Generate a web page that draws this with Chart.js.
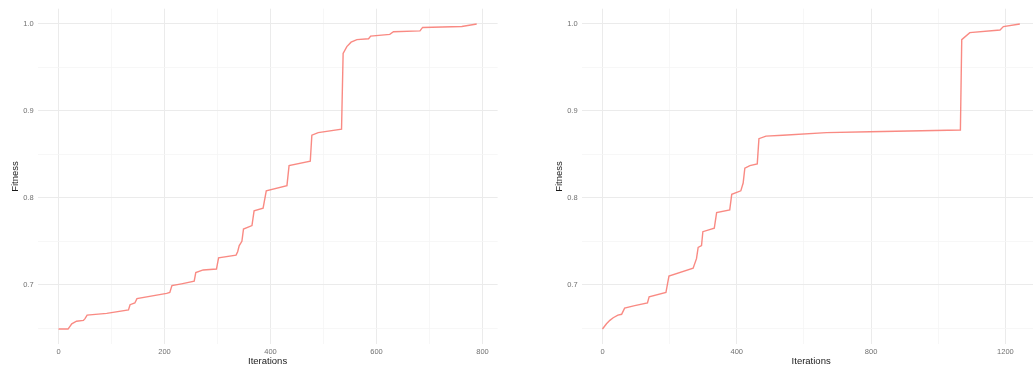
<!DOCTYPE html>
<html>
<head>
<meta charset="utf-8">
<script src="https://cdn.jsdelivr.net/npm/chart.js@4/dist/chart.umd.min.js"></script>
<style>
  html, body { margin: 0; padding: 0; background: #fff; overflow: hidden; width: 1033px; height: 367px; }
  .panel { position: absolute; top: 0; width: 520px; height: 367px; }
</style>
</head>
<body>
<div class="panel" style="left:0"><canvas id="runA" width="520" height="367"></canvas></div>
<div class="panel" style="left:544px"><canvas id="runB" width="520" height="367"></canvas></div>
<script>
// Best fitness per iteration, first run
const runAIterations = [0, 18, 25, 34, 47, 50, 54, 91, 132, 135, 144, 148, 204, 210, 214, 232, 256, 259, 273, 298,
  302, 335, 338, 341, 346, 349, 365, 369, 386, 392, 431, 435, 475, 478, 490, 534, 537, 544, 552, 563,
  585, 589, 625, 632, 682, 687, 761, 789];
const runAFitness = [0.649, 0.649, 0.655, 0.658, 0.659, 0.661, 0.665, 0.667, 0.671, 0.677, 0.679, 0.684, 0.690, 0.691, 0.699, 0.701, 0.704, 0.714, 0.717, 0.718,
  0.731, 0.734, 0.738, 0.745, 0.750, 0.764, 0.768, 0.785, 0.788, 0.808, 0.814, 0.837, 0.842, 0.872, 0.875, 0.879, 0.966, 0.974, 0.979, 0.982,
  0.983, 0.986, 0.988, 0.991, 0.992, 0.996, 0.997, 1.000];

// Best fitness per iteration, second run
const runBIterations = [0, 12, 22, 32, 46, 57, 66, 96, 134, 139, 189, 198, 270, 280, 285, 295, 299, 333, 340, 379,
  385, 412, 419, 424, 439, 461, 466, 487, 537, 667, 796, 1066, 1070, 1094, 1184, 1194, 1243];
const runBFitness = [0.649, 0.655, 0.659, 0.662, 0.665, 0.666, 0.673, 0.676, 0.679, 0.686, 0.691, 0.710, 0.719, 0.730, 0.743, 0.745, 0.761, 0.765, 0.783, 0.786,
  0.804, 0.808, 0.817, 0.834, 0.837, 0.839, 0.868, 0.871, 0.872, 0.875, 0.876, 0.878, 0.982, 0.990, 0.993, 0.997, 1.000];

// Axis ticks
const yTickValues = [0.7, 0.8, 0.9, 1.0];
const yTickLabels = ['0.7', '0.8', '0.9', '1.0'];
const yMinorValues = [0.65, 0.75, 0.85, 0.95];
const runAXTickValues = [0, 200, 400, 600, 800];
const runAXTickLabels = ['0', '200', '400', '600', '800'];
const runAXMinorValues = [100, 300, 500, 700];
const runBXTickValues = [0, 400, 800, 1200];
const runBXTickLabels = ['0', '400', '800', '1200'];
const runBXMinorValues = [200, 600, 1000];

const LINE_COLOR = 'rgba(248,118,109,0.85)';
const GRID_MAJOR = '#ebebeb';
const GRID_MINOR = '#f5f5f5';
const FONT = 'Liberation Sans, Arial, Helvetica, sans-serif';

// ggplot-style 5% expansion on both sides of the data range
function expand(lo, hi) {
  const pad = (hi - lo) * 0.05;
  return [lo - pad, hi + pad];
}

function near(list, v) {
  return list.findIndex(t => Math.abs(t - v) < 1e-9);
}

function buildPanel(canvasId, iterations, fitness, xTicks, xLabels, xMinor, plotRight) {
  const allFit = runAFitness.concat(runBFitness);
  const [yMin, yMax] = expand(Math.min(...allFit), Math.max(...allFit));
  const [xMin, xMax] = expand(Math.min(...iterations), Math.max(...iterations));
  const canvas = document.getElementById(canvasId);

  new Chart(canvas, {
    type: 'line',
    data: {
      datasets: [{
        data: iterations.map((it, i) => ({ x: it, y: fitness[i] })),
        borderColor: LINE_COLOR,
        borderWidth: 1.4,
        pointRadius: 0,
        tension: 0,
        fill: false
      }]
    },
    options: {
      responsive: false,
      animation: false,
      events: [],
      layout: { padding: { left: 0, top: 8.7, right: canvas.width - plotRight, bottom: 0 } },
      plugins: { legend: { display: false }, tooltip: { enabled: false } },
      scales: {
        x: {
          type: 'linear',
          min: xMin,
          max: xMax,
          afterBuildTicks: s => { s.ticks = xTicks.concat(xMinor).sort((a, b) => a - b).map(v => ({ value: v })); },
          afterFit: s => { s.height = 22.7; },
          border: { display: false },
          grid: {
            drawTicks: false,
            color: c => (c.tick && near(xTicks, c.tick.value) >= 0) ? GRID_MAJOR : GRID_MINOR,
            lineWidth: c => (c.tick && near(xTicks, c.tick.value) >= 0) ? 1 : 0.8
          },
          ticks: {
            autoSkip: false,
            maxRotation: 0,
            padding: 3,
            color: '#707070',
            font: { family: FONT, size: 7.5 },
            callback: v => { const i = near(xTicks, v); return i >= 0 ? xLabels[i] : ''; }
          },
          title: {
            display: true,
            text: 'Iterations',
            color: '#1a1a1a',
            padding: { top: 0, bottom: 0 },
            font: { family: FONT, size: 9.5 }
          }
        },
        y: {
          type: 'linear',
          min: yMin,
          max: yMax,
          afterBuildTicks: s => { s.ticks = yTickValues.concat(yMinorValues).sort((a, b) => a - b).map(v => ({ value: v })); },
          afterFit: s => { s.width = 37.6; },
          border: { display: false },
          grid: {
            drawTicks: false,
            color: c => (c.tick && near(yTickValues, c.tick.value) >= 0) ? GRID_MAJOR : GRID_MINOR,
            lineWidth: c => (c.tick && near(yTickValues, c.tick.value) >= 0) ? 1 : 0.8
          },
          ticks: {
            autoSkip: false,
            padding: 4,
            color: '#707070',
            font: { family: FONT, size: 7.5 },
            callback: v => { const i = near(yTickValues, v); return i >= 0 ? yTickLabels[i] : ''; }
          },
          title: {
            display: true,
            text: 'Fitness',
            color: '#1a1a1a',
            padding: { top: 9.3, bottom: 0 },
            font: { family: FONT, size: 9.5 }
          }
        }
      }
    }
  });
}

buildPanel('runA', runAIterations, runAFitness, runAXTickValues, runAXTickLabels, runAXMinorValues, 497.6);
buildPanel('runB', runBIterations, runBFitness, runBXTickValues, runBXTickLabels, runBXMinorValues, 496.7);
</script>
</body>
</html>
